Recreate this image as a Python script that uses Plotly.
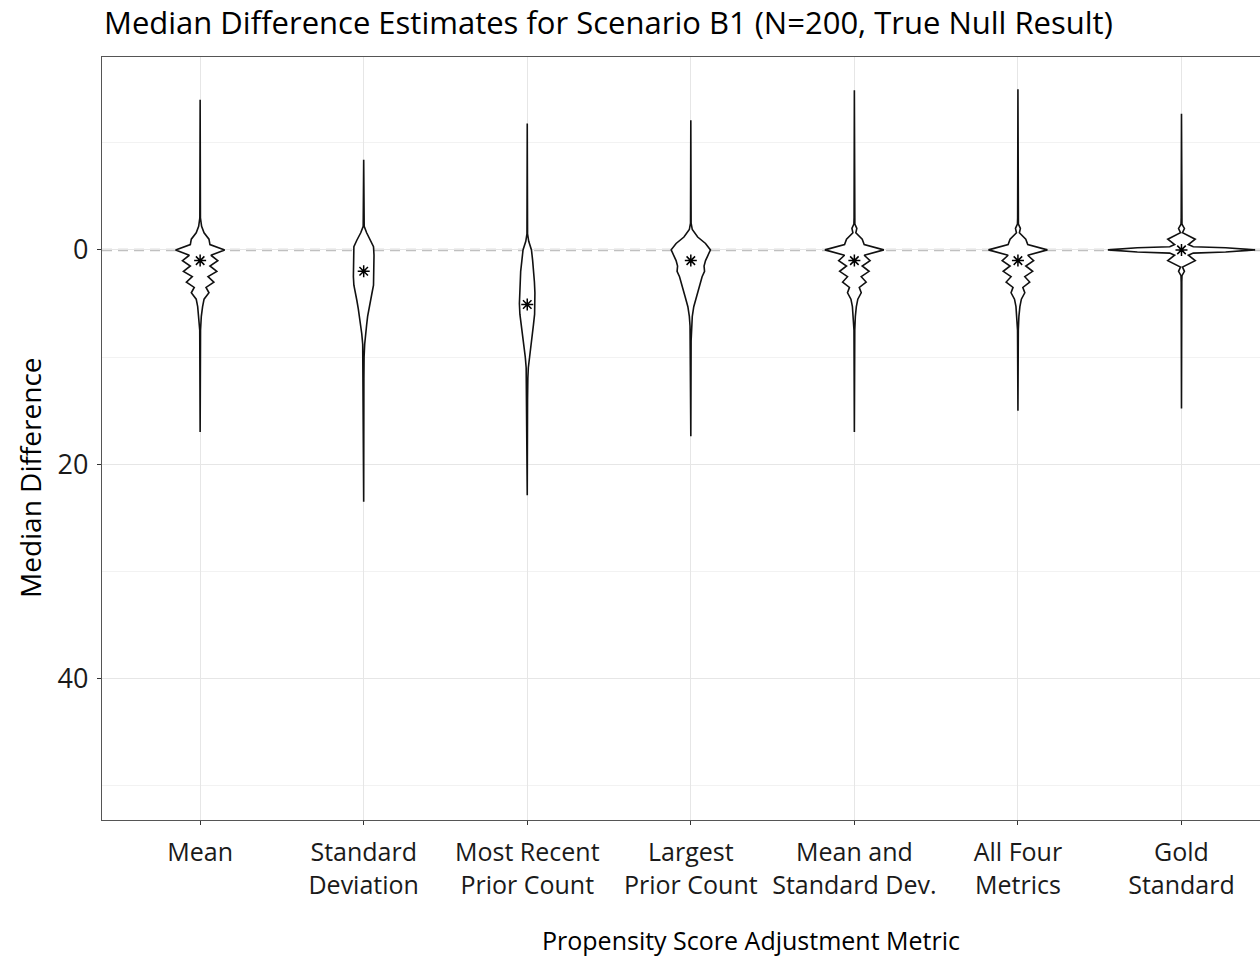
import plotly.graph_objects as go

# ---------------- data ----------------
categories = ["Mean", "Standard<br>Deviation", "Most Recent<br>Prior Count",
              "Largest<br>Prior Count", "Mean and<br>Standard Dev.",
              "All Four<br>Metrics", "Gold<br>Standard"]

# violin profiles: value positions and relative density (same units for all violins)
mean_y = [-14.0, -3.0, -2.2, -1.6, -1.0, -0.5, 0, 0.5, 1, 1.5, 2, 2.5, 3, 3.5, 4, 4.6, 5.3, 6.2, 7.5, 17.0]
mean_d = [0, 0.3, 1.5, 4, 9, 10, 25, 11, 18, 10, 17, 8, 14, 6, 9, 4, 2.5, 1.2, 0.4, 0]

sd_y = [-8.4, -2.2, -1.6, -0.9, -0.3, 0.5, 1.5, 2.5, 3.3, 4.0, 4.7, 5.5, 6.2, 7.0, 7.8, 8.8, 10, 12, 23.5]
sd_d = [0, 0.5, 3, 7, 10, 10.5, 10.5, 10.5, 10, 8.5, 7, 5.5, 4, 3, 2, 1, 0.4, 0.2, 0]

recent_y = [-11.8, -1.5, -0.8, 0, 1, 2, 3, 4, 5, 6, 7, 8, 9, 10, 11, 12, 14, 22.9]
recent_d = [0, 0.3, 1.5, 4.3, 5.5, 6.7, 7.3, 7.8, 8, 7.5, 6.3, 5, 3.5, 2, 1.1, 0.6, 0.3, 0]

largest_y = [-12.1, -2.5, -1.9, -1.2, -0.6, 0, 0.6, 1.0, 1.5, 2.0, 2.5, 3.4, 4.3, 5.3, 6.2, 7.1, 8.5, 17.4]
largest_d = [0, 0.3, 1.5, 7, 15, 20, 17, 15, 13.5, 14, 11.5, 9, 6, 3, 1.5, 0.8, 0.3, 0]

meansd_y = [-14.9, -3.0, -2.4, -2.0, -1.6, -1.0, -0.5, 0, 0.5, 1, 1.5, 2, 2.5, 3, 3.5, 4, 4.6, 5.3, 6.2, 7.5, 17.0]
meansd_d = [0, 0.3, 0.5, 2.5, 1.5, 8, 10, 30, 10, 16, 8, 15, 7, 12, 5, 7, 3.5, 2, 1, 0.4, 0]

allfour_y = [-15.0, -3.0, -2.4, -2.0, -1.6, -1.0, -0.5, 0, 0.5, 1, 1.5, 2, 2.5, 3, 3.5, 4, 4.6, 5.3, 6.2, 7.5, 15.0]
allfour_d = [0, 0.3, 0.5, 2.5, 1.5, 8, 10, 30, 10, 16, 8, 15, 7, 12, 5, 7, 3.5, 2, 1, 0.4, 0]

gold_y = [-12.7, -3.0, -2.4, -2.0, -1.6, -1.0, -0.5, -0.3, -0.2, 0, 0.2, 0.3, 0.5, 1.0, 1.6, 2.0, 2.4, 3.0, 14.8]
gold_d = [0, 0.3, 0.5, 3, 1, 14, 7, 12, 45, 75, 45, 12, 7, 14, 1, 3, 0.5, 0.3, 0]

mean_values = [1.0, 2.0, 5.1, 1.0, 1.0, 1.0, 0.0]

y_ticks = [0, 20, 40]
y_minor = [-10, 10, 30, 50]

profiles = [(mean_y, mean_d), (sd_y, sd_d), (recent_y, recent_d), (largest_y, largest_d),
            (meansd_y, meansd_d), (allfour_y, allfour_d), (gold_y, gold_d)]

# ---------------- figure ----------------
HALF_WIDTH = 0.45
max_d = max(max(d) for _, d in profiles)

fig = go.Figure()
for i, (ys, ds) in enumerate(profiles):
    hw = [HALF_WIDTH * d / max_d for d in ds]
    xs = [i + h for h in hw] + [i - h for h in reversed(hw)]
    yy = list(ys) + list(reversed(ys))
    fig.add_trace(go.Scatter(
        x=xs, y=yy, mode="lines", fill="toself", fillcolor="white",
        line=dict(color="#111111", width=1.6), hoverinfo="skip", showlegend=False))

fig.add_trace(go.Scatter(
    x=list(range(len(categories))), y=mean_values, mode="markers",
    marker=dict(symbol="asterisk-open", size=10, color="black",
                line=dict(color="black", width=1.5)),
    showlegend=False, hoverinfo="skip"))

fig.add_shape(type="line", xref="paper", x0=0, x1=1, yref="y", y0=0, y1=0,
              line=dict(color="#c0c0c0", width=2.5, dash="10px,6px"), layer="below")

fig.update_layout(
    width=1260, height=956,
    margin=dict(l=102, r=0, t=57, b=136),
    paper_bgcolor="white", plot_bgcolor="white",
    font=dict(family="Open Sans", color="#1a1a1a"),
    title=dict(text="Median Difference Estimates for Scenario B1 (N=200, True Null Result)",
               x=104 / 1260, xanchor="left", xref="container",
               y=1 - 23 / 956, yanchor="middle", yref="container",
               font=dict(size=31, color="black")),
    xaxis=dict(range=[-0.6, 6.48], tickvals=list(range(len(categories))), ticktext=categories,
               showgrid=True, gridcolor="#e6e6e6", gridwidth=1.3, zeroline=False,
               showline=True, linecolor="#555555", linewidth=1.4, mirror=True,
               ticks="outside", ticklen=4, tickcolor="#333333", tickwidth=1.4,
               ticklabelstandoff=6,
               tickfont=dict(size=25, color="#1a1a1a")),
    yaxis=dict(range=[53.2, -18.0], tickvals=y_ticks, ticktext=[str(v) for v in y_ticks],
               showgrid=True, gridcolor="#e6e6e6", gridwidth=1.3, zeroline=False,
               minor=dict(tickvals=y_minor, showgrid=True, gridcolor="#f2f2f2", gridwidth=1, ticks=""),
               showline=True, linecolor="#555555", linewidth=1.4, mirror=False,
               ticks="outside", ticklen=4, tickcolor="#333333", tickwidth=1.4,
               ticklabelstandoff=3,
               tickfont=dict(size=27, color="#1a1a1a")),
    annotations=[
        dict(text="Propensity Score Adjustment Metric", xref="paper", yref="paper",
             x=(751 - 102) / 1158, y=-(940 - 820) / 763, xanchor="center", yanchor="middle",
             showarrow=False, font=dict(size=25, color="black")),
        dict(text="Median Difference", xref="paper", yref="paper",
             x=-(102 - 30) / 1158, y=(820 - 478) / 763, xanchor="center", yanchor="middle",
             textangle=-90, showarrow=False, font=dict(size=28, color="black")),
    ],
)

fig.write_html("out.html")
